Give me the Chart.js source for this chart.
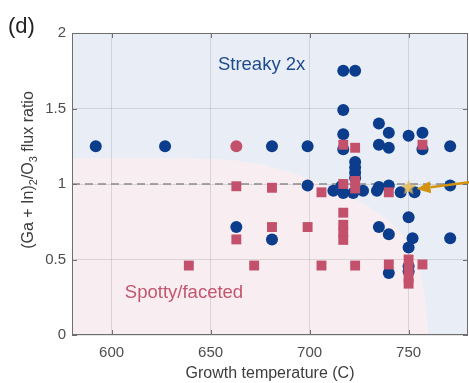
<!DOCTYPE html>
<html>
<head>
<meta charset="utf-8">
<title>Flux ratio vs growth temperature</title>
<script src="https://cdn.jsdelivr.net/npm/chart.js@4.4.1/dist/chart.umd.min.js"></script>
<style>
  html, body { margin: 0; padding: 0; background: #fff; }
  #wrap { width: 469px; height: 383px; position: relative; }
</style>
</head>
<body>
<div id="wrap"><canvas id="growthChart"></canvas></div>
<script>
// Axis ticks
const tempTicks = [600, 650, 700, 750];
const ratioTicks = [0, 0.5, 1, 1.5, 2];

// Streaky 2x growths (blue circles)
const streakyTemp = [592, 627, 681, 699, 717, 723, 717, 717, 717, 735, 740, 735, 740, 750, 757, 757, 771,
  723, 723, 723, 723, 699, 712, 716, 717, 722, 727, 734, 735, 740, 746, 753, 771,
  663, 681, 735, 740, 750, 752, 771, 750, 750, 750, 740];
const streakyRatio = [1.25, 1.25, 1.25, 1.25, 1.75, 1.75, 1.49, 1.33, 1.23, 1.40, 1.34, 1.26, 1.24, 1.32, 1.34, 1.23, 1.25,
  1.145, 1.11, 1.075, 1.04, 0.99, 0.955, 0.985, 0.94, 0.94, 0.955, 0.955, 0.98, 0.99, 0.945, 0.945, 0.99,
  0.715, 0.633, 0.715, 0.667, 0.78, 0.64, 0.64, 0.58, 0.455, 0.42, 0.41];

// Spotty/faceted growths (red squares, first one drawn round)
const spottyTemp = [663, 717, 723, 757, 663, 681, 706, 717, 723, 723, 740,
  681, 699, 663, 717, 717, 717, 717, 639, 672, 706, 723, 740, 757, 750, 750, 750, 750];
const spottyRatio = [1.25, 1.26, 1.24, 1.26, 0.985, 0.975, 0.945, 1.0, 1.02, 0.97, 0.945,
  0.715, 0.715, 0.633, 0.81, 0.73, 0.68, 0.63, 0.46, 0.46, 0.46, 0.46, 0.467, 0.467, 0.5, 0.44, 0.38, 0.34];

// Highlighted sample (star) and the arrow pointing at it
const markedTemp = [750];
const markedRatio = [0.975];
const arrowTemp = [781, 754];
const arrowRatio = [1.012, 0.967];

// Stoichiometric reference line
const refTemp = [580, 780];
const refRatio = [1, 1];

// Edge of the spotty/faceted region
const boundaryTemp = [580, 640, 660, 675, 690, 705, 718, 730, 740, 748, 754, 757, 759, 760];
const boundaryRatio = [1.17, 1.17, 1.16, 1.13, 1.08, 1.01, 0.93, 0.85, 0.76, 0.65, 0.5, 0.35, 0.15, 0];

// Region labels: [temp, ratio] of the text start
const streakyLabelAt = [653.7, 1.753];
const spottyLabelAt = [606.7, 0.247];

const FONT = "'Liberation Sans', Arial, Helvetica, sans-serif";
const BLUE = "#0b3d8c";
const RED = "#c4516c";

document.addEventListener("DOMContentLoaded", function () {
  initGrowthChart();
});

/**
 * Build a filled 5-point star used as the marker for the highlighted sample
 */
function makeStar(size, color) {
  const c = document.createElement("canvas");
  c.width = size;
  c.height = size;
  const g = c.getContext("2d");
  const cx = size / 2, cy = size / 2, ro = size / 2, ri = ro * 0.45;
  g.beginPath();
  for (let i = 0; i < 10; i++) {
    const r = i % 2 === 0 ? ro : ri;
    const ang = -Math.PI / 2 + (i * Math.PI) / 5;
    g.lineTo(cx + r * Math.cos(ang), cy + r * Math.sin(ang));
  }
  g.closePath();
  g.fillStyle = color;
  g.fill();
  return c;
}

const toPoints = (xs, ys) => xs.map((x, i) => ({ x: x, y: ys[i] }));

// Light-blue background with the pink spotty region in the lower left
const regionPlugin = {
  id: "regions",
  beforeDraw(chart) {
    const { ctx, chartArea: a, scales } = chart;
    ctx.save();
    ctx.fillStyle = "#e9eef6";
    ctx.fillRect(a.left, a.top, a.right - a.left, a.bottom - a.top);
    ctx.beginPath();
    ctx.moveTo(scales.x.getPixelForValue(boundaryTemp[0]), a.bottom);
    boundaryTemp.forEach(function (t, i) {
      ctx.lineTo(scales.x.getPixelForValue(t), scales.y.getPixelForValue(boundaryRatio[i]));
    });
    ctx.closePath();
    ctx.fillStyle = "#f8eef1";
    ctx.fill();
    ctx.restore();
  },
};

// Box, inward ticks, titles, region labels and arrow
const decorPlugin = {
  id: "decor",
  afterDraw(chart) {
    const { ctx, chartArea: a, scales } = chart;
    const xs = scales.x, ys = scales.y;
    ctx.save();

    // box
    ctx.strokeStyle = "#6e6e6e";
    ctx.lineWidth = 1;
    ctx.strokeRect(a.left + 0.5, a.top + 0.5, a.right - a.left - 1, a.bottom - a.top - 1);
    ctx.beginPath();
    tempTicks.forEach(function (t) {
      const px = Math.round(xs.getPixelForValue(t)) + 0.5;
      ctx.moveTo(px, a.bottom); ctx.lineTo(px, a.bottom - 5);
      ctx.moveTo(px, a.top); ctx.lineTo(px, a.top + 5);
    });
    ratioTicks.forEach(function (r) {
      const py = Math.round(ys.getPixelForValue(r)) + 0.5;
      ctx.moveTo(a.left, py); ctx.lineTo(a.left + 5, py);
      ctx.moveTo(a.right, py); ctx.lineTo(a.right - 5, py);
    });
    ctx.stroke();

    // arrow to the highlighted sample
    const x0 = xs.getPixelForValue(arrowTemp[0]), y0 = ys.getPixelForValue(arrowRatio[0]);
    const x1 = xs.getPixelForValue(arrowTemp[1]), y1 = ys.getPixelForValue(arrowRatio[1]);
    const ang = Math.atan2(y1 - y0, x1 - x0);
    const head = 14, half = 6;
    const bx = x1 - head * Math.cos(ang), by = y1 - head * Math.sin(ang);
    ctx.strokeStyle = "#d4930f";
    ctx.fillStyle = "#d4930f";
    ctx.lineWidth = 2.5;
    ctx.beginPath();
    ctx.moveTo(x0, y0);
    ctx.lineTo(bx, by);
    ctx.stroke();
    ctx.beginPath();
    ctx.moveTo(x1, y1);
    ctx.lineTo(bx + half * Math.sin(ang), by - half * Math.cos(ang));
    ctx.lineTo(bx - half * Math.sin(ang), by + half * Math.cos(ang));
    ctx.closePath();
    ctx.fill();

    // region labels
    ctx.font = "18.5px " + FONT;
    ctx.textAlign = "left";
    ctx.textBaseline = "alphabetic";
    ctx.fillStyle = "#1d4a8e";
    ctx.fillText("Streaky 2x", xs.getPixelForValue(streakyLabelAt[0]), ys.getPixelForValue(streakyLabelAt[1]));
    ctx.fillStyle = "#c2566f";
    ctx.fillText("Spotty/faceted", xs.getPixelForValue(spottyLabelAt[0]), ys.getPixelForValue(spottyLabelAt[1]));

    // panel letter
    ctx.fillStyle = "#222";
    ctx.font = "22px " + FONT;
    ctx.fillText("(d)", 8, 33);

    // x title
    ctx.fillStyle = "#3d3d3d";
    ctx.font = "16px " + FONT;
    ctx.textAlign = "center";
    ctx.fillText("Growth temperature (C)", (a.left + a.right) / 2, 378);

    // y title with subscripts
    const parts = [
      { t: "(Ga + In)", sub: false },
      { t: "2", sub: true },
      { t: "/O", sub: false },
      { t: "3", sub: true },
      { t: " flux ratio", sub: false },
    ];
    const bigFont = "16px " + FONT, smallFont = "11px " + FONT;
    let total = 0;
    parts.forEach(function (p) {
      ctx.font = p.sub ? smallFont : bigFont;
      p.w = ctx.measureText(p.t).width;
      total += p.w;
    });
    ctx.translate(33, 170);
    ctx.rotate(-Math.PI / 2);
    ctx.textAlign = "left";
    let cx = -total / 2;
    parts.forEach(function (p) {
      ctx.font = p.sub ? smallFont : bigFont;
      ctx.fillText(p.t, cx, p.sub ? 4 : 0);
      cx += p.w;
    });
    ctx.restore();
  },
};

/**
 * Scatter chart of flux ratio against growth temperature
 */
function initGrowthChart() {
  const canvas = document.getElementById("growthChart");
  const ctx = canvas.getContext("2d");
  const star = makeStar(16, "rgba(228, 184, 84, 0.85)");

  new Chart(ctx, {
    type: "scatter",
    data: {
      datasets: [
        {
          label: "Marked",
          data: toPoints(markedTemp, markedRatio),
          pointStyle: star,
          pointRadius: 8,
        },
        {
          label: "Spotty/faceted",
          data: toPoints(spottyTemp, spottyRatio),
          backgroundColor: RED,
          borderWidth: 0,
          pointStyle: (c) => (c.dataIndex === 0 ? "circle" : "rect"),
          pointRadius: (c) => (c.dataIndex === 0 ? 6 : 7),
        },
        {
          label: "Streaky 2x",
          data: toPoints(streakyTemp, streakyRatio),
          backgroundColor: BLUE,
          borderWidth: 0,
          pointRadius: 6,
        },
        {
          type: "line",
          label: "Reference",
          data: toPoints(refTemp, refRatio),
          borderColor: "#8a8a8a",
          borderWidth: 1.5,
          borderDash: [8, 5],
          pointRadius: 0,
          fill: false,
        },
      ],
    },
    options: {
      responsive: true,
      maintainAspectRatio: false,
      animation: false,
      layout: { autoPadding: false, padding: { top: 33, right: 1, left: 0, bottom: 0 } },
      plugins: {
        legend: { display: false },
        tooltip: { enabled: false },
      },
      scales: {
        x: {
          type: "linear",
          min: 580,
          max: 780,
          afterBuildTicks: (s) => { s.ticks = tempTicks.map((v) => ({ value: v })); },
          afterFit: (s) => { s.height = 48; s.paddingLeft = 0; s.paddingRight = 0; },
          grid: { color: "rgba(0,0,0,0.11)", drawTicks: false },
          border: { display: false },
          ticks: { font: { family: FONT, size: 15 }, color: "#4d4d4d", padding: 9, maxRotation: 0 },
        },
        y: {
          type: "linear",
          min: 0,
          max: 2,
          afterBuildTicks: (s) => { s.ticks = ratioTicks.map((v) => ({ value: v })); },
          afterFit: (s) => { s.width = 72; s.paddingTop = 0; s.paddingBottom = 0; },
          grid: { color: "rgba(0,0,0,0.11)", drawTicks: false },
          border: { display: false },
          ticks: { font: { family: FONT, size: 15 }, color: "#4d4d4d", padding: 6, callback: (v) => String(v) },
        },
      },
    },
    plugins: [regionPlugin, decorPlugin],
  });
}
</script>
</body>
</html>
